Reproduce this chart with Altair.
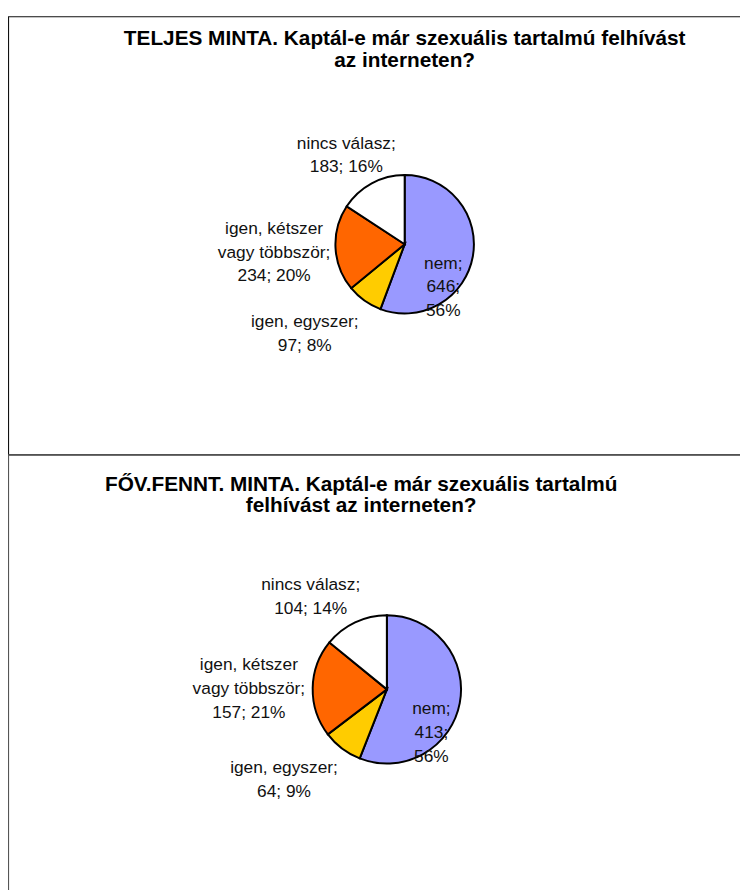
import altair as alt
import pandas as pd

# ---- data ----
categories = ["nem", "igen, egyszer", "igen, kétszer vagy többször", "nincs válasz"]
colors = ["#9999FF", "#FFCC00", "#FF6600", "#FFFFFF"]
teljes_values = [646, 97, 234, 183]
fovfennt_values = [413, 64, 157, 104]

titles = [
    "TELJES MINTA. Kaptál-e már szexuális tartalmú felhívást\naz interneten?",
    "FŐV.FENNT. MINTA. Kaptál-e már szexuális tartalmú\nfelhívást az interneten?",
]

# label wording (line breaks as in the original)
label_names = ["nem;", "igen, egyszer;", "igen, kétszer\nvagy többször;", "nincs válasz;"]
label_value_sep = ["\n", "\n", "\n", "\n"]
label_pct_sep = ["\n", " ", " ", " "]

# ---- layout (pixel positions, chart coords) ----
W, H = 740, 882
pies = [
    dict(values=teljes_values, cx=401, cy=234, r=70,
         lx=[440, 300, 269, 342], ly=[259, 318, 224, 137.5], lh=23.7,
         tx=401, ty=33, frame=(4, 447), stroke="#111111"),
    dict(values=fovfennt_values, cx=383, cy=684, r=75,
         lx=[428, 279, 243.5, 306], ly=[708.5, 769, 664, 583.5], lh=24.3,
         tx=357, ty=483, frame=(447, 900), stroke="#555555"),
]

LABEL_FONT = "Liberation Sans, Arial"
TITLE_FONT = "Liberation Sans, Arial"

layers = []
for i, p in enumerate(pies):
    vals = p["values"]
    total = sum(vals)
    pie_df = pd.DataFrame({"cat": categories, "v": vals, "idx": list(range(len(vals)))})
    texts = []
    for k, v in enumerate(vals):
        pct = round(100 * v / total)
        texts.append(f"{label_names[k]}{label_value_sep[k]}{v};{label_pct_sep[k]}{pct}%")
    lab_df = pd.DataFrame({"t": texts, "x": p["lx"], "y": p["ly"]})

    y0, y1 = p["frame"]
    frame = alt.Chart(pd.DataFrame({"a": [0]})).mark_rect(
        fill=None, stroke=p["stroke"], strokeWidth=1.2
    ).encode(
        x=alt.value(0.5), x2=alt.value(W + 20), y=alt.value(y0), y2=alt.value(y1)
    )

    arc = alt.Chart(pie_df).mark_arc(
        radius=p["r"], stroke="black", strokeWidth=2
    ).encode(
        theta=alt.Theta("v:Q", stack=True),
        color=alt.Color("cat:N", scale=alt.Scale(domain=categories, range=colors), legend=None),
        order=alt.Order("idx:Q"),
        x=alt.value(p["cx"]),
        y=alt.value(p["cy"]),
    )

    labels = alt.Chart(lab_df).mark_text(
        font=LABEL_FONT, fontSize=17.5, color="#111111", align="center",
        baseline="alphabetic", lineBreak="\n", lineHeight=p["lh"]
    ).encode(
        x=alt.X("x:Q", scale=None), y=alt.Y("y:Q", scale=None), text="t:N"
    )

    title = alt.Chart(pd.DataFrame({"t": [titles[i]]})).mark_text(
        font=TITLE_FONT, fontSize=21, fontWeight="bold", color="#000000",
        align="center", baseline="alphabetic", lineBreak="\n", lineHeight=22
    ).encode(
        x=alt.value(p["tx"]), y=alt.value(p["ty"]), text="t:N"
    )

    layers += [frame, arc, labels, title]

chart = alt.layer(*layers).resolve_scale(theta="independent").properties(
    width=W, height=H, autosize=alt.AutoSizeParams(type="none"), padding=0,
    background="white"
).configure_view(stroke=None)

chart.save("out.html", embed_options={"renderer": "svg", "actions": False})
